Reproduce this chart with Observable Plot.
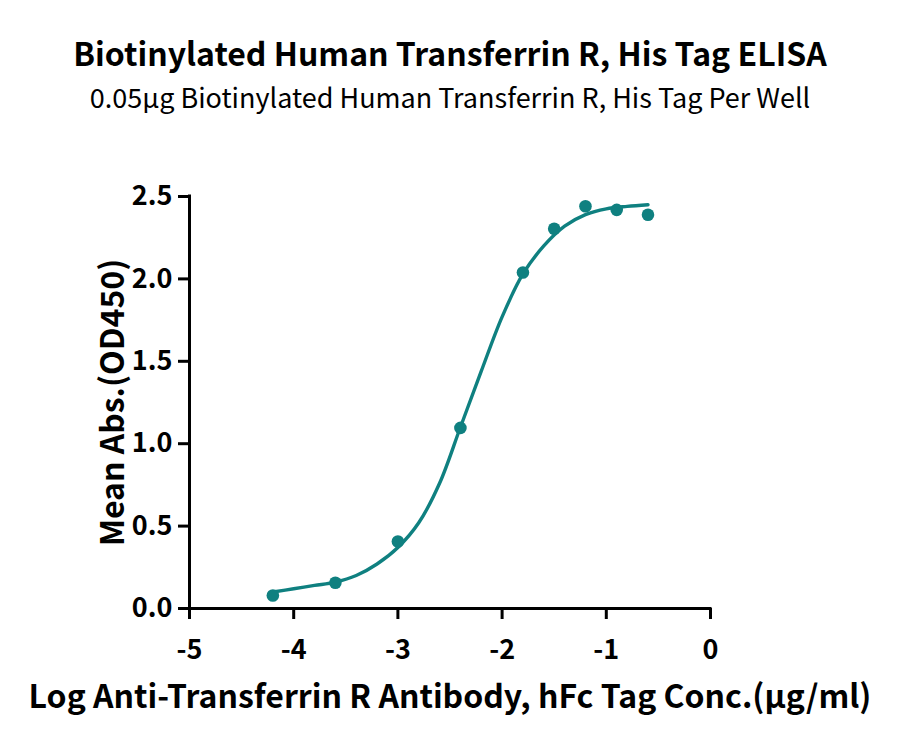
<!DOCTYPE html>
<html>
<head>
<meta charset="utf-8">
<script src="https://cdn.jsdelivr.net/npm/d3@7"></script>
<script src="https://cdn.jsdelivr.net/npm/@observablehq/plot@0.6"></script>
<style>
  html, body { margin: 0; padding: 0; background: #fff; }
  body { width: 900px; height: 744px; overflow: hidden; font-family: "Noto Sans CJK SC", "Noto Sans", sans-serif; }
  #head { height: 130px; position: relative; }
  #title { position: absolute; left: 0; width: 900px; top: 32px; text-align: center; font-weight: bold; font-size: 32px; line-height: 40px; color: #000; }
  #subtitle { position: absolute; left: 0; width: 900px; top: 80px; text-align: center; font-size: 27px; line-height: 34px; color: #000; }
  svg { display: block; }
</style>
</head>
<body>
<div id="head">
  <div id="title">Biotinylated Human Transferrin R, His Tag ELISA</div>
  <div id="subtitle">0.05μg Biotinylated Human Transferrin R, His Tag Per Well</div>
</div>
<div id="chart"></div>
<script>
// Measured data points (log concentration, mean absorbance)
const logConc = [-4.2, -3.6, -3.0, -2.4, -1.8, -1.5, -1.2, -0.9, -0.6];
const meanAbs = [0.079, 0.156, 0.407, 1.096, 2.039, 2.304, 2.441, 2.419, 2.389];

// Fitted curve
const fitX = [-4.2, -4.0, -3.8, -3.6, -3.4, -3.2, -3.0, -2.8, -2.6, -2.4, -2.2, -2.0, -1.8, -1.6, -1.4, -1.2, -1.0, -0.8, -0.6];
const fitY = [0.10, 0.12, 0.14, 0.16, 0.20, 0.27, 0.37, 0.52, 0.76, 1.10, 1.44, 1.77, 2.03, 2.20, 2.32, 2.39, 2.425, 2.44, 2.45];

const xTicks = [-5, -4, -3, -2, -1, 0];
const yTicks = [0, 0.5, 1.0, 1.5, 2.0, 2.5];

const titleX = "Log Anti-Transferrin R Antibody, hFc Tag Conc.(μg/ml)";
const titleY = "Mean Abs.(OD450)";

const points = logConc.map((x, i) => ({x, y: meanAbs[i]}));
const fit = fitX.map((x, i) => ({x, y: fitY[i]}));

const teal = "#0f8080";
const font = "'Noto Sans CJK SC', 'Noto Sans', sans-serif";

const chart = Plot.plot({
  width: 900,
  height: 614,
  marginTop: 66,
  marginBottom: 136,
  marginLeft: 189,
  marginRight: 190,
  style: {fontFamily: font, color: "#000", background: "#fff", overflow: "visible"},
  x: {domain: [-5, 0]},
  y: {domain: [0, 2.5]},
  marks: [
    Plot.ruleX([-5], {y1: 0, y2: 2.5, stroke: "#000", strokeWidth: 3, strokeLinecap: "square"}),
    Plot.ruleY([0], {x1: -5, x2: 0, stroke: "#000", strokeWidth: 3, strokeLinecap: "square"}),
    Plot.axisY({ticks: yTicks, tickSize: 11, tickPadding: 6, strokeWidth: 3, label: null,
      tickFormat: d3.format(".1f"), fontSize: 27, fontWeight: "bold"}),
    Plot.axisX({ticks: xTicks, tickSize: 11, tickPadding: 20, strokeWidth: 3, label: null,
      tickFormat: d => String(d), fontSize: 27, fontWeight: "bold"}),
    Plot.line(fit, {x: "x", y: "y", stroke: teal, strokeWidth: 3.4, curve: "catmull-rom"}),
    Plot.dot(points, {x: "x", y: "y", fill: teal, r: 6.3}),
    Plot.text([titleY], {frameAnchor: "left", textAnchor: "middle", lineAnchor: "middle", dx: -76, rotate: -90, fontSize: 32, fontWeight: "bold", fill: "#000"}),
    Plot.text([titleX], {frameAnchor: "bottom", textAnchor: "middle", lineAnchor: "middle", dy: 89, fontSize: 32, fontWeight: "bold", fill: "#000"})
  ]
});
document.getElementById("chart").appendChild(chart);
</script>
</body>
</html>
